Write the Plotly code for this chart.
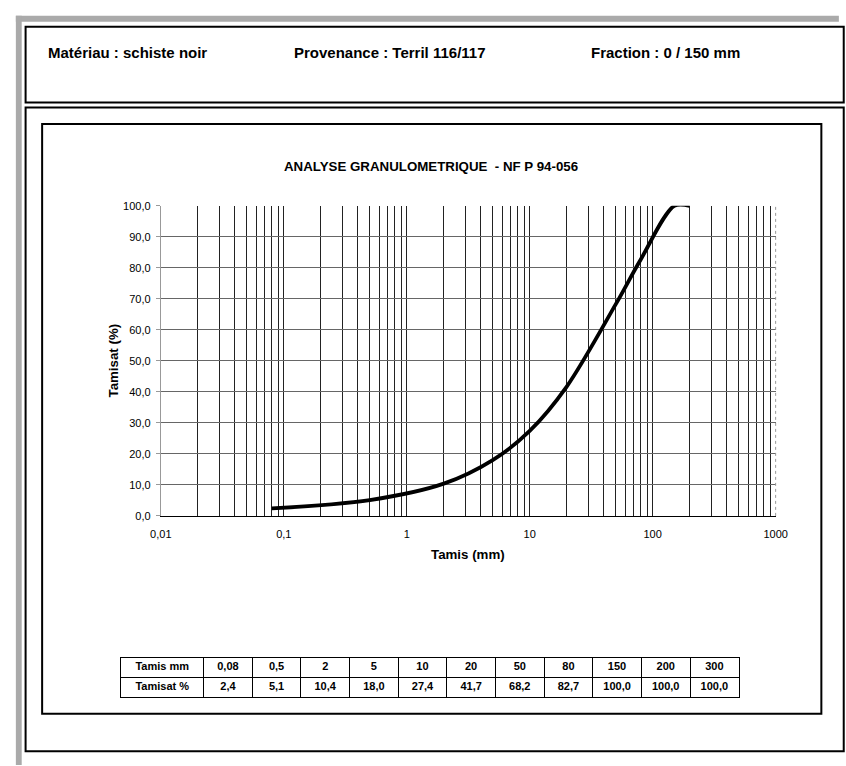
import plotly.graph_objects as go

W, H = 846, 766

# ---------------- data ----------------
sieve_mm = [0.08, 0.5, 2, 5, 10, 20, 50, 80, 150, 200, 300]
sieve_labels = ["0,08", "0,5", "2", "5", "10", "20", "50", "80", "150", "200", "300"]
passing_pct = [2.4, 5.1, 10.4, 18.0, 27.4, 41.7, 68.2, 82.7, 100.0, 100.0, 100.0]
passing_labels = ["2,4", "5,1", "10,4", "18,0", "27,4", "41,7", "68,2", "82,7", "100,0", "100,0", "100,0"]
curve_points = 10  # the curve stops at 200 mm

x_major_vals = [0.01, 0.1, 1, 10, 100, 1000]
x_major_text = ["0,01", "0,1", "1", "10", "100", "1000"]
y_tick_vals = [0, 10, 20, 30, 40, 50, 60, 70, 80, 90, 100]
y_tick_text = ["0,0", "10,0", "20,0", "30,0", "40,0", "50,0", "60,0", "70,0", "80,0", "90,0", "100,0"]

header_texts = ["Matériau : schiste noir", "Provenance : Terril 116/117", "Fraction : 0 / 150 mm"]
chart_title = "ANALYSE GRANULOMETRIQUE  - NF P 94-056"
x_title = "Tamis (mm)"
y_title = "Tamisat (%)"
row_titles = ["Tamis mm", "Tamisat %"]

# ---------------- helpers (page pixel -> paper) ----------------
def px(x):
    return x / W

def py(y):
    return 1 - y / H

FONT = "Arial, 'Liberation Sans', Helvetica, sans-serif"

grid_vals, grid_text = [], []
for d in range(-2, 3):
    for m in range(1, 10):
        grid_vals.append(m * 10 ** d)
        grid_text.append(x_major_text[d + 2] if m == 1 else "")
grid_vals.append(x_major_vals[-1])
grid_text.append(x_major_text[-1])

fig = go.Figure()

fig.add_trace(go.Scatter(
    x=sieve_mm[:curve_points], y=passing_pct[:curve_points],
    mode="lines", line=dict(color="black", width=3.8, shape="spline", smoothing=0.9),
    hoverinfo="x+y", showlegend=False, cliponaxis=False,
))

# ---------------- table drawn on its own axes ----------------
first_col_w, col_w = 85, 50
col_edges = [0, first_col_w]
for _ in sieve_labels:
    col_edges.append(col_edges[-1] + col_w)
col_centers = [(col_edges[i] + col_edges[i + 1]) / 2 for i in range(len(col_edges) - 1)]
row_top = [row_titles[0]] + sieve_labels
row_bot = [row_titles[1]] + passing_labels

fig.add_trace(go.Scatter(
    x=col_centers + col_centers,
    y=[1.5] * len(col_centers) + [0.5] * len(col_centers),
    text=["<b>" + t + "</b>" for t in row_top + row_bot],
    mode="text", textposition="middle center",
    textfont=dict(family=FONT, size=11, color="black"),
    xaxis="x2", yaxis="y2", hoverinfo="skip", showlegend=False,
))

shapes = []
# grey page border
shapes.append(dict(type="rect", xref="paper", yref="paper", x0=px(5), x1=px(W + 5), y0=py(16), y1=py(10),
                   fillcolor="#aaaaaa", line=dict(width=0), layer="below"))
shapes.append(dict(type="rect", xref="paper", yref="paper", x0=px(5), x1=px(11), y0=py(H + 5), y1=py(10),
                   fillcolor="#aaaaaa", line=dict(width=0), layer="below"))
# header box, lower box, chart box
shapes.append(dict(type="rect", xref="paper", yref="paper", x0=px(15), x1=px(W + 10), y0=py(98), y1=py(21),
                   line=dict(color="black", width=2), layer="below"))
shapes.append(dict(type="rect", xref="paper", yref="paper", x0=px(15), x1=px(W + 10), y0=py(757), y1=py(103),
                   line=dict(color="black", width=2), layer="below"))
shapes.append(dict(type="rect", xref="paper", yref="paper", x0=px(32), x1=px(833), y0=py(719), y1=py(120),
                   line=dict(color="black", width=2), layer="below"))
# dotted right edge of the plot area
shapes.append(dict(type="line", xref="x domain", yref="y domain", x0=1, x1=1, y0=0, y1=1,
                   line=dict(color="#999999", width=1, dash="dot")))

annotations = []
for txt, xpos in zip(header_texts, [36, 289, 594]):
    annotations.append(dict(text="<b>" + txt + "</b>", xref="paper", yref="paper", x=px(xpos), y=py(47),
                            xanchor="left", yanchor="middle", showarrow=False,
                            font=dict(family=FONT, size=15, color="black")))
annotations.append(dict(text="<b>" + chart_title + "</b>", xref="paper", yref="paper", x=px(432), y=py(163),
                        xanchor="center", yanchor="middle", showarrow=False,
                        font=dict(family=FONT, size=13.3, color="black")))
annotations.append(dict(text="<b>" + x_title + "</b>", xref="paper", yref="paper", x=px(470), y=py(557),
                        xanchor="center", yanchor="middle", showarrow=False,
                        font=dict(family=FONT, size=13.3, color="black")))
annotations.append(dict(text="<b>" + y_title + "</b>", xref="paper", yref="paper", x=px(105), y=py(360),
                        xanchor="center", yanchor="middle", showarrow=False, textangle=-90,
                        font=dict(family=FONT, size=13.3, color="black")))

fig.update_layout(
    width=W, height=H,
    margin=dict(l=0, r=0, t=0, b=0),
    paper_bgcolor="white", plot_bgcolor="white",
    font=dict(family=FONT, size=11, color="black"),
    showlegend=False,
    shapes=shapes,
    annotations=annotations,
    xaxis=dict(
        type="log", range=[-2, 3], domain=[px(154), px(786)],
        tickmode="array", tickvals=grid_vals, ticktext=grid_text,
        showgrid=True, gridcolor="#222222", gridwidth=1,
        ticks="", showline=True, linecolor="black", linewidth=1,
        zeroline=False, tickfont=dict(size=11), ticklabelstandoff=8,
    ),
    yaxis=dict(
        range=[0, 100], domain=[py(518), py(203)],
        tickmode="array", tickvals=y_tick_vals, ticktext=y_tick_text,
        showgrid=True, gridcolor="#666666", gridwidth=1,
        ticks="outside", ticklen=4, tickcolor="#999999",
        showline=True, linecolor="#999999", linewidth=1,
        zeroline=False, tickfont=dict(size=11), ticklabelstandoff=3,
    ),
    xaxis2=dict(
        range=[col_edges[0], col_edges[-1]], domain=[px(113), px(113 + col_edges[-1])],
        anchor="y2", tickmode="array", tickvals=col_edges, showticklabels=False, ticks="",
        showgrid=True, gridcolor="black", gridwidth=1, zeroline=False,
        showline=True, mirror=True, linecolor="black", linewidth=1, fixedrange=True,
    ),
    yaxis2=dict(
        range=[0, 2], domain=[py(702), py(662)],
        anchor="x2", tickmode="array", tickvals=[0, 1, 2], showticklabels=False, ticks="",
        showgrid=True, gridcolor="black", gridwidth=1, zeroline=False,
        showline=True, mirror=True, linecolor="black", linewidth=1, fixedrange=True,
    ),
)

fig.write_html("out.html")
